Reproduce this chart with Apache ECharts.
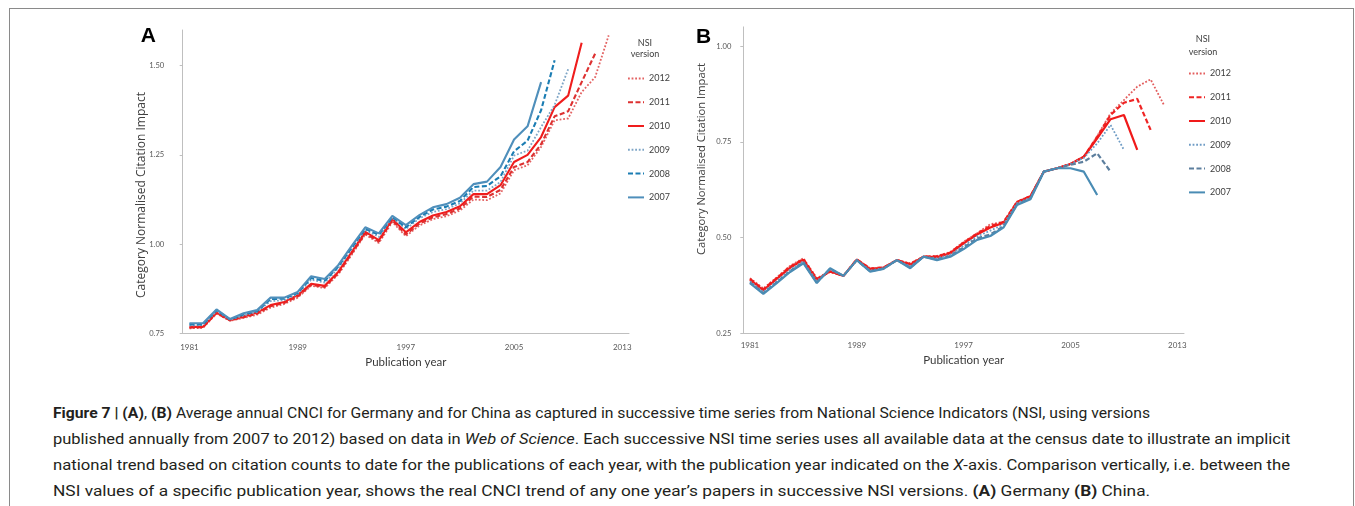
<!DOCTYPE html>
<html><head><meta charset="utf-8">
<script src="https://cdn.jsdelivr.net/npm/echarts@6/dist/echarts.min.js"></script>
<style>
html,body{margin:0;padding:0;background:#fff;}
#wrap{position:relative;width:1355px;height:506px;overflow:hidden;background:#fff;}
#chart{position:absolute;left:0;top:0;width:1355px;height:385px;}
#frame{position:absolute;left:9px;top:8px;width:1345px;height:600px;border:1px solid #8a8a8a;box-sizing:border-box;pointer-events:none;}
.cap{position:absolute;left:53px;white-space:nowrap;font-family:Roboto,'Liberation Sans',sans-serif;font-size:15.5px;color:#231f20;transform-origin:0 50%;line-height:18px;}
.cap b{font-weight:700;}
</style></head>
<body><div id="wrap"><div id="frame"></div><div id="chart"></div>
<div class="cap" data-w="1097" style="top:404px"><b>Figure 7 | (A)</b>, <b>(B)</b> Average annual CNCI for Germany and for China as captured in successive time series from National Science Indicators (NSI, using versions</div>
<div class="cap" data-w="1237" style="top:430px">published annually from 2007 to 2012) based on data in <i>Web of Science</i>. Each successive NSI time series uses all available data at the census date to illustrate an implicit</div>
<div class="cap" data-w="1237" style="top:456px">national trend based on citation counts to date for the publications of each year, with the publication year indicated on the <i>X</i>-axis. Comparison vertically, i.e. between the</div>
<div class="cap" data-w="1097" style="top:482px">NSI values of a specific publication year, shows the real CNCI trend of any one year’s papers in successive NSI versions. <b>(A)</b> Germany <b>(B)</b> China.</div>
</div>
<script>
// ---- data ----
const years = ['1981','1982','1983','1984','1985','1986','1987','1988','1989','1990','1991','1992','1993','1994','1995','1996','1997','1998','1999','2000','2001','2002','2003','2004','2005','2006','2007','2008','2009','2010','2011','2012','2013'];
const versions = ['2012','2011','2010','2009','2008','2007'];
const yTicksA = [0.75, 1.00, 1.25, 1.50];
const yTicksB = [0.25, 0.50, 0.75, 1.00];

// Germany (panel A), values from 1981 onward
const germany2012 = [0.764,0.765,0.805,0.785,0.793,0.802,0.822,0.832,0.850,0.883,0.877,0.915,0.970,1.027,1.003,1.062,1.022,1.052,1.070,1.078,1.094,1.125,1.123,1.142,1.207,1.221,1.272,1.347,1.352,1.426,1.468,1.585];
const germany2011 = [0.766,0.767,0.807,0.786,0.795,0.805,0.826,0.835,0.853,0.886,0.880,0.918,0.974,1.030,1.007,1.066,1.027,1.057,1.075,1.084,1.100,1.133,1.132,1.152,1.216,1.230,1.280,1.358,1.372,1.454,1.534];
const germany2010 = [0.768,0.768,0.808,0.787,0.797,0.808,0.829,0.838,0.857,0.889,0.883,0.922,0.978,1.034,1.011,1.070,1.033,1.062,1.080,1.090,1.106,1.140,1.140,1.165,1.230,1.250,1.300,1.384,1.416,1.564];
const germany2009 = [0.772,0.773,0.812,0.788,0.800,0.810,0.840,0.843,0.860,0.900,0.892,0.932,0.986,1.040,1.020,1.074,1.042,1.072,1.090,1.098,1.114,1.150,1.150,1.174,1.248,1.262,1.328,1.390,1.490];
const germany2008 = [0.775,0.775,0.815,0.789,0.803,0.812,0.846,0.847,0.863,0.905,0.897,0.937,0.990,1.043,1.026,1.076,1.047,1.076,1.097,1.105,1.121,1.160,1.163,1.190,1.260,1.290,1.375,1.515];
const germany2007 = [0.778,0.778,0.817,0.790,0.806,0.815,0.850,0.850,0.866,0.910,0.902,0.941,0.995,1.047,1.030,1.079,1.053,1.081,1.103,1.112,1.130,1.168,1.175,1.216,1.293,1.330,1.454];

// China (panel B), values from 1981 onward
const china2012 = [0.394,0.367,0.396,0.426,0.446,0.394,0.410,0.400,0.443,0.420,0.422,0.441,0.433,0.450,0.452,0.462,0.489,0.511,0.535,0.541,0.594,0.609,0.672,0.681,0.692,0.711,0.765,0.824,0.859,0.894,0.913,0.846];
const china2011 = [0.392,0.365,0.394,0.424,0.444,0.392,0.411,0.400,0.443,0.419,0.422,0.441,0.431,0.450,0.451,0.461,0.487,0.510,0.530,0.541,0.593,0.608,0.672,0.681,0.692,0.711,0.763,0.820,0.852,0.862,0.781];
const china2010 = [0.390,0.362,0.392,0.421,0.442,0.390,0.412,0.400,0.442,0.417,0.421,0.441,0.429,0.450,0.449,0.459,0.485,0.508,0.526,0.539,0.592,0.607,0.672,0.681,0.692,0.711,0.759,0.809,0.820,0.729];
const china2009 = [0.386,0.358,0.386,0.416,0.438,0.386,0.416,0.400,0.441,0.414,0.420,0.441,0.425,0.450,0.446,0.455,0.479,0.503,0.518,0.535,0.590,0.604,0.672,0.681,0.692,0.708,0.746,0.794,0.729];
const china2008 = [0.383,0.355,0.383,0.412,0.435,0.383,0.418,0.400,0.441,0.412,0.419,0.441,0.422,0.450,0.443,0.452,0.474,0.498,0.508,0.530,0.587,0.602,0.672,0.681,0.690,0.698,0.720,0.672];
const china2007 = [0.381,0.353,0.381,0.410,0.433,0.381,0.420,0.400,0.441,0.411,0.418,0.441,0.420,0.450,0.441,0.450,0.470,0.494,0.504,0.527,0.585,0.600,0.672,0.681,0.681,0.672,0.611];

const germanyData = {'2012':germany2012,'2011':germany2011,'2010':germany2010,'2009':germany2009,'2008':germany2008,'2007':germany2007};
const chinaData = {'2012':china2012,'2011':china2011,'2010':china2010,'2009':china2009,'2008':china2008,'2007':china2007};

// ---- styles ----
const DOT = [1.8, 1.8], DASH = [5, 2.5];
const stylesA = {
  '2012': {color:'#e36262', type:DOT, width:1.8},
  '2011': {color:'#dd3131', type:DASH, width:2.1},
  '2010': {color:'#ef1d1d', type:'solid', width:2.1},
  '2009': {color:'#7ea5c6', type:DOT, width:1.8},
  '2008': {color:'#1b7db3', type:DASH, width:2.1},
  '2007': {color:'#4f8fbb', type:'solid', width:2.1}
};
const stylesB = {
  '2012': {color:'#e35d5d', type:DOT, width:1.8},
  '2011': {color:'#ef2424', type:DASH, width:2.2},
  '2010': {color:'#f01a1a', type:'solid', width:2.2},
  '2009': {color:'#6f9cc5', type:DOT, width:1.8},
  '2008': {color:'#5d7f9e', type:DASH, width:2.2},
  '2007': {color:'#4a8cb4', type:'solid', width:2.2}
};

const series = [];
versions.forEach(v => {
  series.push({name:'A'+v, type:'line', xAxisIndex:0, yAxisIndex:0, data:germanyData[v], symbol:'none', lineStyle:Object.assign({cap:'butt'}, stylesA[v]), itemStyle:{color:stylesA[v].color, opacity:0}});
});
versions.forEach(v => {
  series.push({name:'B'+v, type:'line', xAxisIndex:1, yAxisIndex:1, data:chinaData[v], symbol:'none', lineStyle:Object.assign({cap:'butt'}, stylesB[v]), itemStyle:{color:stylesB[v].color, opacity:0}});
});

const FONT = 'Lato, "Open Sans", sans-serif';
function xAxis(idx, margin, nameGap){
  return {gridIndex:idx, type:'category', data:years, boundaryGap:true,
    axisLine:{lineStyle:{color:'#bfbfbf', width:1}},
    axisTick:{interval:0, length:3, lineStyle:{color:'#bfbfbf'}},
    axisLabel:{interval:7, fontSize:8, color:'#595959', margin:margin, fontFamily:FONT},
    splitLine:{show:false},
    name:'Publication year', nameLocation:'middle', nameGap:nameGap,
    nameTextStyle:{fontSize:11.5, color:'#3a3a3a', fontFamily:FONT}};
}
function yAxis(idx, min, max, ticks, margin){
  return {gridIndex:idx, type:'value', min:min, max:max, interval:0.25,
    axisLine:{show:true, lineStyle:{color:'#bfbfbf', width:1}},
    axisTick:{show:true, length:3, customValues:ticks, lineStyle:{color:'#bfbfbf'}},
    axisLabel:{customValues:ticks, formatter:v => Number(v).toFixed(2), fontSize:7.6, color:'#595959', margin:margin, fontFamily:FONT},
    splitLine:{show:false}};
}
function legend(left, top, prefix){
  return {left:left, top:top, orient:'vertical', itemWidth:16, itemHeight:12, itemGap:14.2,
    data:versions.map(v => prefix+v), formatter:n => n.slice(1),
    itemStyle:{opacity:0},
    textStyle:{fontSize:9, color:'#404040', fontFamily:FONT}, selectedMode:false};
}
function txt(x, y, s, size, opts){
  return Object.assign({type:'text', x:x, y:y, silent:true,
    style:Object.assign({text:s, fontSize:size, fontFamily:FONT, fill:'#404040', align:'center', verticalAlign:'middle'}, opts||{})});
}

const option = {
  animation:false,
  backgroundColor:'transparent',
  grid:[
    {left:182.7, top:30, width:446.3, height:303.3},
    {left:743.3, top:26.9, width:440.7, height:306.4}
  ],
  xAxis:[xAxis(0, 10, 21), xAxis(1, 8, 18)],
  yAxis:[yAxis(0, 0.75, 1.6, yTicksA, 18.5), yAxis(1, 0.25, 1.05, yTicksB, 12)],
  legend:[legend(622, 68.6, 'A'), legend(1183, 63.6, 'B')],
  graphic:[
    txt(148.3, 36, 'A', 21, {fontFamily:'"Liberation Sans", Arial, sans-serif', fontWeight:'bold', fill:'#000'}),
    txt(703.5, 37.5, 'B', 21, {fontFamily:'"Liberation Sans", Arial, sans-serif', fontWeight:'bold', fill:'#000'}),
    Object.assign(txt(141.5, 195, 'Category Normalised Citation Impact', 12, {fontFamily:'"Open Sans", sans-serif'}), {rotation:Math.PI/2}),
    Object.assign(txt(701.5, 159, 'Category Normalised Citation Impact', 11.2, {fontFamily:'"Open Sans", sans-serif'}), {rotation:Math.PI/2}),
    txt(645, 42.7, 'NSI', 9),
    txt(645, 54.3, 'version', 9),
    txt(1203, 39.3, 'NSI', 9),
    txt(1203, 52.3, 'version', 9)
  ],
  series:series
};
const chart = echarts.init(document.getElementById('chart'), null, {renderer:'canvas'});
chart.setOption(option);

// fit caption lines to their measured widths
document.querySelectorAll('.cap').forEach(el => {
  const w = el.scrollWidth;
  const target = +el.dataset.w;
  el.style.transform = 'scaleX(' + (target / w) + ')';
});
</script>
</body></html>
